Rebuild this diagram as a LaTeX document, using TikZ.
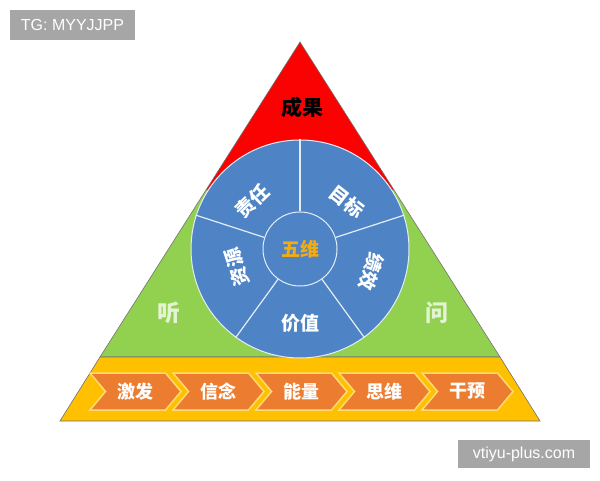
\documentclass[tikz,border=0pt]{standalone}
\usepackage{fontspec}
\setmainfont{Liberation Sans}
\newfontfamily\cjk{Noto Sans CJK SC}
\usetikzlibrary{calc,shapes.symbols}
\definecolor{rojo}{RGB}{250,2,2}
\definecolor{verde}{RGB}{146,208,80}
\definecolor{amarillo}{RGB}{255,192,0}
\definecolor{naranja}{RGB}{236,124,48}
\definecolor{azul}{RGB}{78,132,198}
\definecolor{oro}{RGB}{242,172,18}
\definecolor{gris}{RGB}{166,166,166}

\begin{document}
\begin{tikzpicture}[
    x=1pt, y=1pt,
    borde/.style={draw=black!55, line width=0.6pt},
    radio/.style={draw=white!85!azul, line width=1.2pt},
    sector/.style={font=\cjk\bfseries\fontsize{19}{19}\selectfont, text=white, inner sep=0pt},
    flecha/.style={signal, signal to=east, signal from=west, signal pointer angle=100,
                   fill=naranja, draw=amarillo!55!white, line width=1.5pt,
                   minimum width=91pt, minimum height=37pt, inner sep=0pt,
                   font=\cjk\bfseries\fontsize{18}{18}\selectfont, text=white},
    lado/.style={font=\cjk\bfseries\fontsize{23}{23}\selectfont, text=verde!25!white},
    marca/.style={fill=gris, text=white, font=\fontsize{16}{16}\selectfont,
                  minimum width=125pt, minimum height=30pt, inner sep=0pt}
  ]
  \path[use as bounding box] (0,0) rectangle (600,480);

  % piramide
  \path[fill=rojo, borde]     (206,290) -- (394,290) -- (300,438) -- cycle;
  \path[fill=verde, borde]    (100,123) -- (500,123) -- (394,290) -- (206,290) -- cycle;
  \path[fill=amarillo, borde] (60,59) -- (540,59) -- (500,123) -- (100,123) -- cycle;

  \node[font=\cjk\bfseries\fontsize{21}{21}\selectfont] (chengguo) at (302,372) {成果};
  \node[lado] (ting) at (169,167) {听};
  \node[lado] (wen)  at (437,167) {问};

  % rueda de cinco sectores
  \node[circle, fill=azul, draw=white!85!azul, line width=1pt, minimum size=218pt] (rueda) at (300,231) {};
  \node[circle, draw=white!85!azul, line width=1pt, minimum size=74pt, inner sep=0pt,
        font=\cjk\bfseries\fontsize{19}{19}\selectfont, text=oro] (centro) at (rueda.center) {五维};

  \draw[radio] (centro.90)  -- (rueda.90);
  \draw[radio] (centro.162) -- (rueda.162);
  \draw[radio] (centro.234) -- (rueda.234);
  \draw[radio] (centro.306) -- (rueda.306);
  \draw[radio] (centro.18)  -- (rueda.18);

  \node[sector, rotate=44]   (zeren)  at ($(rueda.center)+(135:67)$) {责任};
  \node[sector, rotate=-38]  (mubiao) at ($(rueda.center)+(45:67)$)  {目标};
  \node[sector, rotate=-108] (jixiao) at ($(rueda.center)+(342:75)$) {绩效};
  \node[sector]              (jiazhi) at ($(rueda.center)+(270:74)$) {价值};
  \node[sector, rotate=108]  (ziyuan) at ($(rueda.center)+(196:66)$) {资源};

  % flechas de la base
  \node[flecha] (jifa)      at (135.5,88.5) {激发};
  \node[flecha] (xinnian)   at (218.5,88.5) {信念};
  \node[flecha] (nengliang) at (301.5,88.5) {能量};
  \node[flecha] (siwei)     at (384.5,88.5) {思维};
  \node[flecha] (ganyu)     at (467.5,88.5) {干预};

  % marcas de agua
  \node[marca] (tg)  at (72.5,455) {TG: MYYJJPP};
  \node[marca, minimum width=132pt, minimum height=28pt] (web) at (524,26) {vtiyu-plus.com};
\end{tikzpicture}
\end{document}
